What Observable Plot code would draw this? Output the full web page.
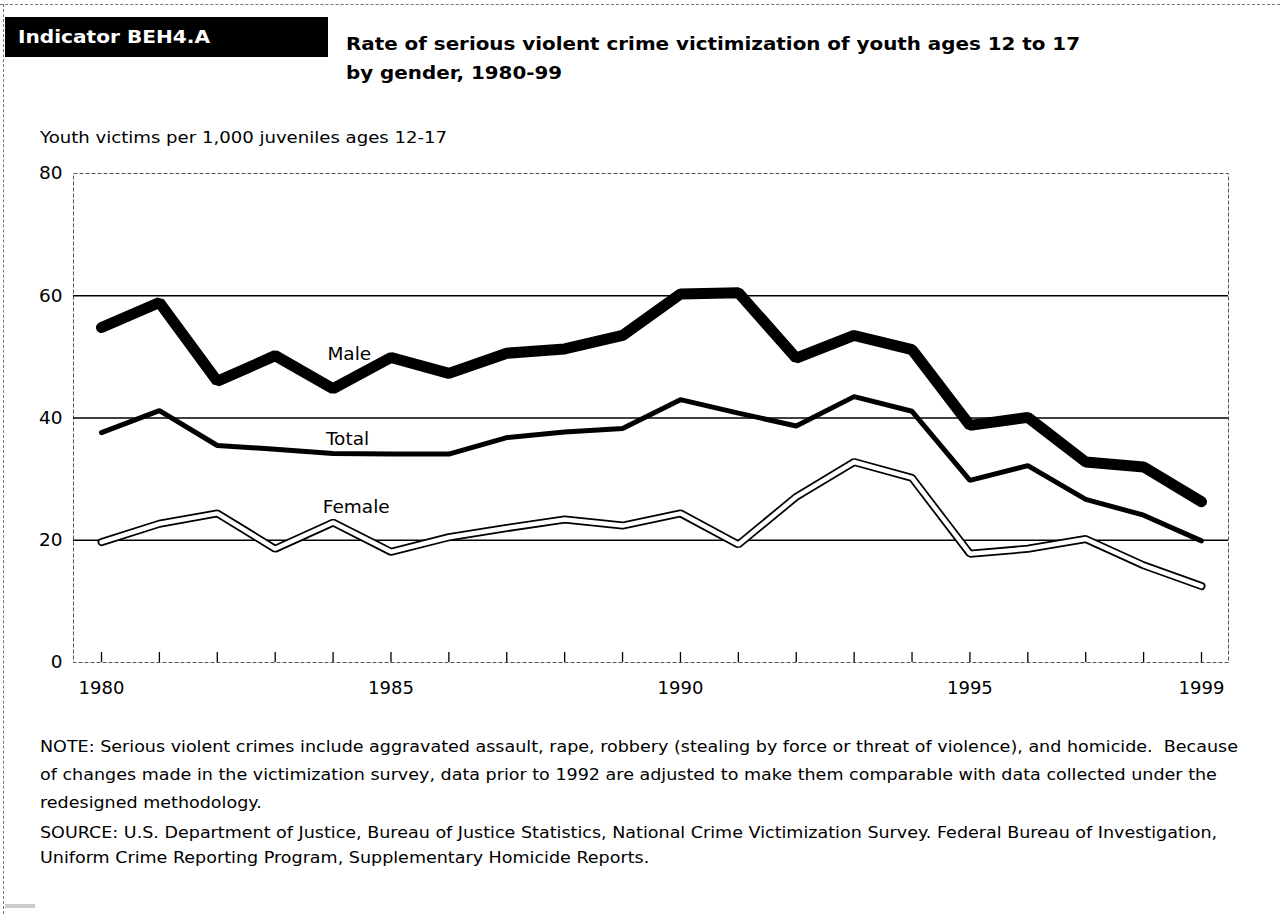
<!DOCTYPE html>
<html>
<head>
<meta charset="utf-8">
<script src="https://cdn.jsdelivr.net/npm/d3@7"></script>
<script src="https://cdn.jsdelivr.net/npm/@observablehq/plot@0.6"></script>
<style>
  html, body { margin: 0; padding: 0; background: #fff; }
  body { width: 1280px; height: 914px; position: relative; overflow: hidden; font-family: "DejaVu Sans", Lato, sans-serif; color: #000; }
  .topline { position: absolute; left: 0; top: 4px; width: 1280px; border-top: 1px dashed #777; }
  .leftline { position: absolute; left: 3px; top: 4px; height: 910px; border-left: 1px dashed #777; }
  .smudge { position: absolute; left: 5px; top: 904px; width: 30px; height: 4px; background: #ccc; }
  .badge { position: absolute; left: 5px; top: 17px; width: 310px; height: 40px; padding-left: 13px; background: #000; color: #fff; font-weight: bold; font-size: 18.5px; line-height: 40px; white-space: nowrap; }
  .title { position: absolute; left: 346px; top: 29px; font-weight: bold; font-size: 18.5px; line-height: 29px; white-space: nowrap; }
  .ylabel { position: absolute; left: 40px; top: 128px; font-size: 16px; line-height: 20px; white-space: nowrap; }
  .fit { display: inline-block; transform-origin: 0 50%; white-space: nowrap; }
  .line { display: block; height: 29px; }
  #chart { position: absolute; left: 0; top: 120px; }
  .notes { position: absolute; left: 40px; top: 733px; font-size: 15px; white-space: nowrap; }
  .notes .nl { display: block; height: 28px; line-height: 28px; }
</style>
</head>
<body>
<div class="topline"></div>
<div class="leftline"></div>
<div class="smudge"></div>
<div id="chart"></div>
<div class="badge"><span class="fit" id="badgeText">Indicator BEH4.A</span></div>
<div class="title">
  <div class="line"><span class="fit" id="title1">Rate of serious violent crime victimization of youth ages 12 to 17</span></div>
  <div class="line"><span class="fit" id="title2">by gender, 1980-99</span></div>
</div>
<div class="ylabel"><span class="fit" id="ylab">Youth victims per 1,000 juveniles ages 12-17</span></div>
<div class="notes">
  <span class="nl"><span class="fit nfit" id="note1">NOTE: Serious violent crimes include aggravated assault, rape, robbery (stealing by force or threat of violence), and homicide.&nbsp; Because</span></span>
  <span class="nl"><span class="fit nfit">of changes made in the victimization survey, data prior to 1992 are adjusted to make them comparable with data collected under the</span></span>
  <span class="nl"><span class="fit nfit">redesigned methodology.</span></span>
  <span class="nl" style="height:27px;line-height:32px"><span class="fit nfit">SOURCE: U.S. Department of Justice, Bureau of Justice Statistics, National Crime Victimization Survey. Federal Bureau of Investigation,</span></span>
  <span class="nl"><span class="fit nfit">Uniform Crime Reporting Program, Supplementary Homicide Reports.</span></span>
</div>
<script>
const years  = [1980,1981,1982,1983,1984,1985,1986,1987,1988,1989,1990,1991,1992,1993,1994,1995,1996,1997,1998,1999];
const male   = [54.8,58.9,46.0,50.2,44.8,49.9,47.3,50.6,51.3,53.5,60.3,60.5,49.8,53.5,51.2,38.8,40.1,32.8,32.0,26.3];
const total  = [37.6,41.2,35.5,34.9,34.2,34.1,34.1,36.8,37.7,38.3,43.0,40.8,38.7,43.5,41.1,29.8,32.2,26.7,24.1,19.9];
const female = [19.7,22.7,24.4,18.6,22.9,18.1,20.5,22.0,23.4,22.4,24.4,19.3,27.1,32.8,30.2,17.8,18.6,20.2,15.9,12.5];
const yTicks = [0,20,40,60,80];
const gridValues = [20,40,60];
const xTickLabels = [1980,1985,1990,1995,1999];
const seriesNames = ["Male","Total","Female"];
const labelYear = [1984.28,1984.25,1984.4];
const labelValue = [50.4,36.6,25.4];

const rows = vals => years.map((year, i) => ({year, value: vals[i]}));
const labels = seriesNames.map((name, i) => ({name, year: labelYear[i], value: labelValue[i]}));

const chart = Plot.plot({
  width: 1280,
  height: 600,
  marginLeft: 73,
  marginRight: 52,
  marginTop: 53,
  marginBottom: 58,
  x: {domain: [1980, 1999], insetLeft: 28, insetRight: 27},
  y: {domain: [0, 80]},
  style: {fontFamily: "'DejaVu Sans', Lato, sans-serif", fontSize: "18px", color: "#000", background: "transparent"},
  marks: [
    Plot.frame({stroke: "#555", strokeWidth: 1, strokeDasharray: "4,2"}),
    Plot.ruleY(gridValues, {stroke: "#000", strokeWidth: 1.6}),
    Plot.ruleX(years, {x: d => d, y1: 0, y2: 0, insetBottom: 10, stroke: "#000", strokeWidth: 1.3}),
    Plot.axisY(yTicks, {tickSize: 0, tickPadding: 11, label: null, fontSize: 18.5}),
    Plot.axisX(xTickLabels, {tickSize: 0, tickPadding: 19, label: null, fontSize: 18, tickFormat: d => String(d)}),
    Plot.line(rows(female), {x: "year", y: "value", stroke: "#000", strokeWidth: 8, strokeLinejoin: "miter", strokeLinecap: "round"}),
    Plot.line(rows(female), {x: "year", y: "value", stroke: "#fff", strokeWidth: 4.5, strokeLinejoin: "miter", strokeLinecap: "round"}),
    Plot.line(rows(total), {x: "year", y: "value", stroke: "#000", strokeWidth: 5, strokeLinejoin: "miter", strokeLinecap: "round"}),
    Plot.line(rows(male), {x: "year", y: "value", stroke: "#000", strokeWidth: 11, strokeLinejoin: "miter", strokeLinecap: "round"}),
    Plot.text(labels, {x: "year", y: "value", text: "name", fontSize: 18.5, fill: "#000"})
  ]
});
document.getElementById("chart").appendChild(chart);

// horizontally fit header / note text to the reference's measured line widths
function scaleFor(el, target) { return target / el.getBoundingClientRect().width; }
function applyScale(el, s) { el.style.transform = `scaleX(${s})`; }
const sBadge = scaleFor(document.getElementById("badgeText"), 192);
applyScale(document.getElementById("badgeText"), sBadge);
const sTitle = scaleFor(document.getElementById("title1"), 734);
applyScale(document.getElementById("title1"), sTitle);
applyScale(document.getElementById("title2"), sTitle);
const sY = scaleFor(document.getElementById("ylab"), 407);
applyScale(document.getElementById("ylab"), sY);
const sNote = scaleFor(document.getElementById("note1"), 1198);
document.querySelectorAll(".nfit").forEach(el => applyScale(el, sNote));
</script>
</body>
</html>
